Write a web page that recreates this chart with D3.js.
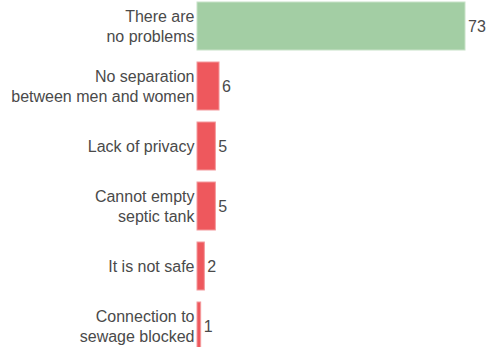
<!DOCTYPE html>
<html>
<head>
<meta charset="utf-8">
<script src="https://cdn.jsdelivr.net/npm/d3@7"></script>
<style>
html,body{margin:0;padding:0;background:#fff;}
svg{display:block;}
text{font-family:"Liberation Sans",Arial,sans-serif;}
</style>
</head>
<body>
<svg id="chart" width="486" height="347"></svg>
<script>
const categories = [
  ["There are", "no problems"],
  ["No separation", "between men and women"],
  ["Lack of privacy"],
  ["Cannot empty", "septic tank"],
  ["It is not safe"],
  ["Connection to", "sewage blocked"]
];
const values = [73, 6, 5, 5, 2, 1];
const highlight = [true, false, false, false, false, false];

const svg = d3.select("#chart");
const x0 = 197;
const x = d3.scaleLinear().domain([0, 73]).range([x0, 465]);
const y = d3.scaleBand().domain(d3.range(categories.length)).range([-4, 356])
  .paddingInner(0.2).paddingOuter(0.1);

const g = svg.append("g");
const rows = g.selectAll("g.row").data(values).enter().append("g").attr("class","row");

rows.append("rect")
  .attr("x", x0)
  .attr("y", (d,i) => y(i))
  .attr("width", d => x(d) - x0)
  .attr("height", y.bandwidth())
  .attr("fill", (d,i) => highlight[i] ? "#a3cea4" : "#ee585d")
  .attr("stroke", (d,i) => highlight[i] ? "#c8e2c8" : "#f49a9d")
  .attr("stroke-width", 1);

rows.append("text")
  .attr("x", d => x(d) + 3)
  .attr("y", (d,i) => y(i) + y.bandwidth()/2)
  .attr("dy", "0.36em")
  .attr("font-size", 16)
  .attr("fill", "#4a4a4a")
  .text(d => d);

rows.each(function(d, i){
  const lines = categories[i];
  const cy = y(i) + y.bandwidth()/2;
  const t = d3.select(this).append("text")
    .attr("text-anchor", "end")
    .attr("font-size", 16)
    .attr("fill", "#4a4a4a");
  lines.forEach((ln, k) => {
    t.append("tspan")
      .attr("x", x0 - 2.5)
      .attr("y", cy + (k - (lines.length - 1)/2) * 20)
      .attr("dy", "0.36em")
      .text(ln);
  });
});
</script>
</body>
</html>
